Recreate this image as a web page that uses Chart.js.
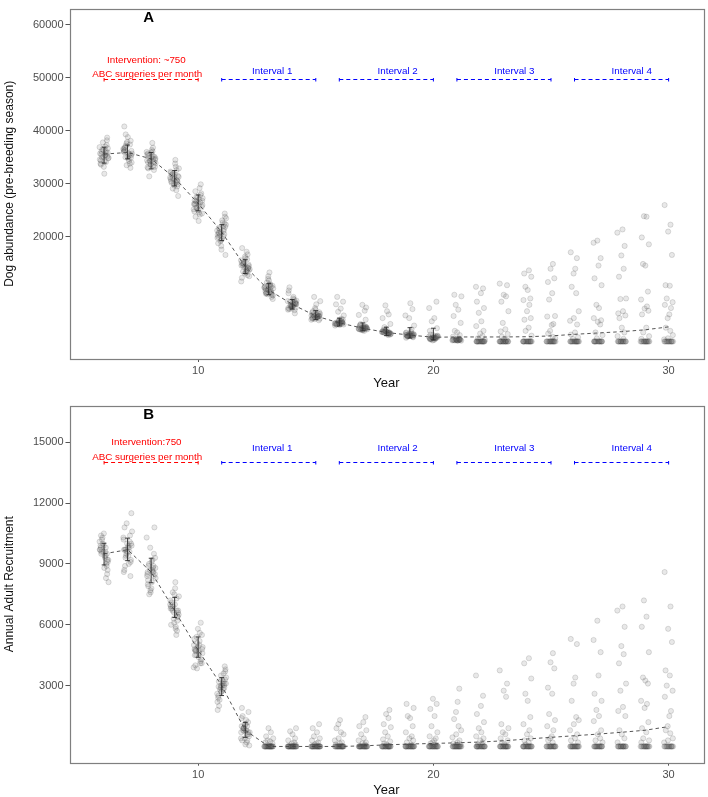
<!DOCTYPE html>
<html>
<head>
<meta charset="utf-8">
<script src="https://cdn.jsdelivr.net/npm/chart.js@4.4.1/dist/chart.umd.min.js"></script>
<style>
  html, body { margin: 0; padding: 0; background: #fff; }
  #wrap { position: relative; width: 708px; height: 797px; }
  canvas { position: absolute; left: 0; }
  #panel-a { top: 0; }
  #panel-b { top: 395px; }
</style>
</head>
<body>
<div id="wrap">
  <canvas id="panel-a" width="708" height="395"></canvas>
  <canvas id="panel-b" width="708" height="402"></canvas>
</div>
<script>
'use strict';

// Section 1: data
const years = [6, 7, 8, 9, 10, 11, 12, 13, 14, 15, 16, 17, 18, 19, 20, 21, 22, 23, 24, 25, 26, 27, 28, 29, 30];
const yearTicks = [10, 20, 30];

// Panel A: dog abundance
const abundanceTicks = [20000, 30000, 40000, 50000, 60000];
const abundanceMean = [35600, 35900, 34700, 31100, 26300, 20900, 14400, 10000, 7300, 5100, 3800, 2800, 2000, 1500, 1100,
    1150, 1150, 1150, 1200, 1350, 1650, 1900, 2150, 2500, 3050];
const abundanceErrLow = [33900, 34700, 32800, 29600, 24900, 19300, 13100, 9100, 6400, 4400, 3200, 2300, 1400, 950, 600];
const abundanceErrHigh = [36900, 37300, 35900, 32500, 27900, 22300, 15700, 11200, 8200, 6100, 4700, 3800, 3000, 2900, 2800];
const abundanceFloor = 300;
const abundanceFloorCount = [0, 0, 0, 0, 0, 0, 0, 0, 0, 0, 0, 0, 0, 0, 0, 0, 17, 17, 17, 16, 16, 15, 14, 14, 13];
const abundanceRuns = [
    [35600, 36200, 34800, 35100, 36900, 37300, 34200, 33800, 35900, 36500, 35300, 34600, 38700, 33200, 35800, 36100, 34900, 37800, 35400, 34400, 36700, 35000, 31900, 38200, 35700, 34100, 36300, 35200, 33600, 37000],
    [36000, 35400, 37200, 34700, 36600, 38100, 35100, 33800, 36900, 35700, 37600, 34300, 40800, 36200, 35000, 38800, 33000, 36400, 35600, 37900, 34900, 36700, 35300, 39300, 34000, 36100, 37400, 35800, 33500, 36300],
    [34700, 35300, 33900, 34200, 36100, 35700, 33200, 34900, 35900, 32600, 34400, 36800, 33700, 35100, 34000, 37700, 31400, 34600, 35500, 33400, 36400, 34300, 32900, 35200, 34800, 33600, 36000, 34100, 35000, 33100],
    [31100, 31800, 30400, 30900, 32600, 29700, 31500, 30200, 33200, 29100, 31300, 32100, 30600, 34500, 30000, 31700, 28800, 32900, 30800, 31200, 29500, 33800, 30500, 27700, 31900, 30300, 32300, 29900, 31400, 30700],
    [26300, 27100, 25500, 26800, 24800, 27900, 25900, 26600, 28600, 24200, 26000, 27400, 25200, 29900, 23000, 26900, 25700, 27600, 24600, 26200, 28200, 25000, 26500, 23800, 27300, 25400, 29200, 26100, 24400, 26700],
    [20900, 21700, 20100, 22300, 19400, 21200, 20500, 23100, 18800, 21900, 20300, 22700, 19800, 24400, 17600, 21400, 20700, 23500, 19200, 22000, 20000, 16600, 21500, 19600, 22500, 20400, 21100, 18300, 23800, 20800],
    [14400, 15100, 13700, 14900, 13300, 15600, 14100, 16300, 12800, 14700, 13900, 15300, 17200, 12300, 14500, 13500, 16000, 14200, 11600, 15800, 13100, 14800, 17900, 13800, 15000, 12600, 14600, 16700, 13400, 14300],
    [10000, 10600, 9500, 10300, 9200, 11100, 9800, 10800, 9400, 11800, 8700, 10400, 9900, 12600, 9100, 10200, 9600, 11400, 8300, 10700, 9700, 13300, 10100, 9300, 10900, 9000, 12100, 10500, 9400, 11000],
    [7300, 7800, 6900, 7500, 6600, 8200, 7100, 7700, 6400, 8700, 7000, 7400, 9400, 6200, 7600, 6800, 10500, 7200, 8000, 6500, 7900, 5600, 7300, 9900, 6700, 7100, 8400, 6300, 7500, 7000],
    [5100, 5400, 4800, 5200, 4600, 5700, 5000, 5300, 4500, 6000, 4900, 5500, 6600, 4400, 5100, 7300, 4700, 5800, 8700, 5000, 5200, 4300, 6300, 5600, 4800, 7900, 5000, 5300, 4600, 5100],
    [3800, 4000, 3600, 3900, 3500, 4200, 3700, 4100, 3400, 3800, 4400, 3600, 3900, 3300, 4000, 3700, 4600, 3500, 5200, 5900, 6500, 7300, 7800, 8700, 4300, 3800, 3600, 4100, 3900, 3700],
    [2800, 3000, 2600, 2900, 2500, 3200, 2700, 3100, 2400, 2800, 3400, 2600, 2900, 2300, 3000, 2700, 3600, 2500, 4400, 5300, 6100, 7200, 6700, 3300, 2800, 2600, 2900, 2700, 3100, 2800],
    [2000, 2200, 1800, 2100, 1700, 2400, 1900, 2300, 1600, 2000, 2600, 1800, 2100, 1500, 2200, 1900, 2000, 1700, 3000, 3600, 4700, 5400, 6000, 7100, 2500, 2000, 1800, 2300, 2100, 1900],
    [1500, 1700, 1300, 1600, 1200, 1900, 1400, 1800, 1100, 1500, 2100, 1300, 1600, 1000, 1700, 1400, 1500, 1200, 2600, 3300, 4700, 5200, 6400, 7500, 2000, 1500, 1300, 1800, 1600, 1400],
    [1000, 1200, 800, 1100, 700, 1400, 900, 1300, 600, 1000, 1600, 800, 1100, 500, 1200, 900, 1000, 2300, 2800, 4100, 4700, 6600, 7800, 1500, 1000, 800, 1300, 1100, 900, 700],
    [600, 500, 700, 550, 650, 450, 600, 500, 700, 550, 650, 600, 500, 450, 600, 700, 550, 600, 9100, 8800, 7200, 6300, 5100, 3800, 2300, 2000, 1500, 1200, 900, 800],
    [10600, 10300, 9400, 7800, 6600, 5700, 4100, 3200, 2300, 1800, 1300, 900, 600],
    [11200, 10900, 9100, 8800, 7800, 6000, 3800, 2600, 2200, 1700, 1200, 800, 600],
    [13700, 13100, 12500, 10600, 10000, 8400, 8100, 7200, 6000, 4700, 4400, 2900, 2300, 1400],
    [14900, 14000, 12200, 11500, 9400, 8200, 5100, 5000, 3600, 3400, 2300, 1800, 1200, 900],
    [17100, 16000, 14000, 13100, 10600, 9400, 6000, 4700, 4200, 3500, 2000, 1600, 1100, 800],
    [19300, 18900, 16000, 14600, 12200, 10900, 7200, 6600, 4700, 4300, 4000, 3500, 2000, 1500, 900],
    [21400, 20800, 18300, 16500, 14000, 12500, 8400, 8300, 6000, 5600, 5200, 4700, 2900, 2000, 1300, 800],
    [23900, 23800, 19900, 18600, 14900, 14600, 9700, 8200, 6900, 6500, 6100, 5400, 2900, 2000, 1300, 800],
    [26000, 22300, 21000, 16600, 10900, 10800, 8400, 7700, 7200, 6600, 5400, 4700, 2900, 2300, 1500, 900, 700]
];

// Panel B: annual adult recruitment
const recruitTicks = [3000, 6000, 9000, 12000, 15000];
const recruitMean = [9500, 9700, 8600, 6700, 4750, 3000, 800, 0, 0, 0, 0, 30, 80, 120, 150,
    180, 220, 280, 370, 450, 530, 610, 700, 800, 980];
const recruitErrLow = [8950, 9160, 8070, 6360, 4400, 2510, 450];
const recruitErrHigh = [10020, 10270, 9280, 7350, 5400, 3390, 1190];
const recruitFloor = 0;
const recruitFloorCount = [0, 0, 0, 0, 0, 0, 0, 22, 22, 21, 20, 20, 19, 19, 18, 18, 17, 17, 17, 16, 16, 15, 15, 14, 13];
const recruitRuns = [
    [9500, 9800, 9200, 9600, 10100, 8900, 9400, 9900, 8700, 10300, 9300, 9700, 8500, 10500, 9000, 9600, 8100, 10000, 9400, 9800, 9100, 10200, 8800, 9500, 9700, 8300, 9900, 9200, 10400, 9600],
    [9700, 10000, 9400, 9900, 10300, 9100, 9600, 10100, 8900, 10600, 9500, 9800, 8700, 11500, 9300, 9800, 8400, 10200, 9600, 10000, 9200, 10800, 9000, 9700, 9900, 8600, 10400, 9400, 11000, 9700],
    [8600, 8900, 8300, 8700, 9200, 8000, 8500, 9000, 7800, 9500, 8400, 8800, 7600, 10800, 8200, 8700, 7500, 9300, 8500, 8900, 8100, 9800, 7900, 8600, 8800, 7700, 10300, 8400, 9100, 8600],
    [6700, 7000, 6400, 6800, 7300, 6100, 6600, 7100, 5900, 7600, 6500, 6900, 5700, 8100, 6300, 6800, 5500, 7400, 6600, 7000, 6200, 7800, 6000, 6700, 6900, 5800, 7200, 6400, 7500, 6700],
    [4750, 5000, 4500, 4800, 5300, 4200, 4700, 5100, 4000, 5600, 4600, 4900, 3900, 6100, 4400, 4800, 4100, 5400, 4600, 5000, 4300, 5800, 4100, 4700, 4900, 3850, 5200, 4500, 5500, 4750],
    [3000, 3200, 2800, 3100, 3500, 2600, 2900, 3300, 2400, 3700, 2800, 3100, 2200, 3950, 2700, 3000, 2000, 3400, 2900, 3200, 2500, 3800, 2300, 3000, 3100, 1800, 3600, 2700, 3300, 2950],
    [800, 1000, 600, 900, 1300, 400, 700, 1100, 300, 1500, 700, 900, 200, 1900, 500, 800, 100, 1200, 700, 1000, 400, 1700, 300, 800, 900, 50, 1400, 600, 1100, 750],
    [900, 700, 500, 400, 300, 250, 200, 150],
    [900, 750, 600, 400, 300, 200, 150, 100],
    [1100, 900, 700, 500, 400, 300, 200, 150, 100],
    [1300, 1100, 900, 700, 600, 400, 300, 200, 150, 100],
    [1450, 1200, 1000, 800, 600, 400, 300, 200, 150, 100],
    [1800, 1600, 1400, 1100, 950, 700, 500, 350, 250, 150, 100],
    [2100, 1900, 1500, 1400, 1000, 700, 500, 400, 300, 200, 100],
    [2350, 2100, 1850, 1500, 1000, 700, 500, 400, 300, 200, 150, 100],
    [2850, 2200, 1700, 1350, 1000, 800, 600, 450, 300, 200, 150, 100],
    [3500, 2500, 2000, 1600, 1200, 900, 700, 500, 400, 300, 200, 100],
    [3750, 3100, 2750, 2450, 1100, 900, 700, 600, 400, 300, 200, 100],
    [4350, 4100, 3350, 2600, 2250, 1450, 1100, 800, 600, 400, 300, 200, 100],
    [4600, 4150, 3850, 2900, 2600, 1600, 1300, 1000, 800, 500, 400, 300, 200],
    [5300, 5050, 3400, 3100, 2250, 1450, 1300, 1100, 800, 600, 400, 300, 200],
    [6200, 5250, 4650, 3500, 2600, 2250, 1800, 1500, 1250, 800, 600, 400, 300, 200],
    [6900, 6700, 5900, 4950, 4550, 4100, 3100, 2750, 1950, 1750, 1500, 800, 600, 400, 200],
    [7200, 6400, 5900, 4650, 3400, 3250, 3100, 2250, 2100, 1900, 1200, 900, 700, 400, 300, 200],
    [8600, 6900, 5800, 5150, 3750, 3500, 3000, 2750, 2450, 1750, 1500, 1000, 800, 650, 400, 300, 200]
];

// annotation spans (years)
const interventionSpan = [6, 10];
const intervalSpans = [[11, 15], [16, 20], [21, 25], [26, 30]];
const intervalLabels = ["Interval 1", "Interval 2", "Interval 3", "Interval 4"];
const intervalLabelX = [13.15, 18.48, 23.44, 28.43];

// horizontal jitter used for the replicate points
const jitter = [-0.12, 0.07, 0.18, -0.03, -0.19, 0.11, 0.02, -0.15, 0.15, -0.07, 0.04, -0.18,
    0.13, -0.01, 0.09, -0.11, 0.19, -0.05, 0.06, -0.14, 0.16, -0.09, 0.01, 0.12, -0.17, 0.08,
    -0.02, 0.14, -0.13, 0.05, -0.08, 0.17, -0.16, 0.1, 0.03, -0.04];

const FONT = "'Liberation Sans', Arial, sans-serif";


// Section 2: helpers
function buildPoints(runs, floorValue, floorCount) {
    let pts = [];
    years.forEach((yr, k) => {
        let vals = runs[k].concat(new Array(floorCount[k]).fill(floorValue));
        vals.forEach((v, i) => {
            pts.push({x: yr + jitter[(i + k * 7) % jitter.length], y: v});
        });
    });
    return pts;
}

const panelPlugin = {
    id: 'panel',
    afterDatasetsDraw(chart, args, opts) {
        const {ctx, scales: {x, y}} = chart;
        ctx.save();

        // error bars
        ctx.strokeStyle = '#262626';
        ctx.lineWidth = 0.9;
        opts.errLow.forEach((lo, i) => {
            const px = x.getPixelForValue(years[i]);
            const capL = x.getPixelForValue(years[i] - 0.1);
            const capR = x.getPixelForValue(years[i] + 0.1);
            const pLo = y.getPixelForValue(lo);
            const pHi = y.getPixelForValue(opts.errHigh[i]);
            ctx.beginPath();
            ctx.moveTo(px, pLo); ctx.lineTo(px, pHi);
            ctx.moveTo(capL, pLo); ctx.lineTo(capR, pLo);
            ctx.moveTo(capL, pHi); ctx.lineTo(capR, pHi);
            ctx.stroke();
        });

        // dashed brackets
        const bracket = (span, color) => {
            const x0 = x.getPixelForValue(span[0]);
            const x1 = x.getPixelForValue(span[1]);
            const py = Math.round(y.getPixelForValue(opts.bracketY)) + 0.5;
            ctx.strokeStyle = color;
            ctx.lineWidth = 1;
            ctx.setLineDash([4, 3]);
            ctx.beginPath();
            ctx.moveTo(x0, py); ctx.lineTo(x1, py);
            ctx.stroke();
            ctx.setLineDash([]);
            ctx.beginPath();
            ctx.moveTo(x0, py - 1.5); ctx.lineTo(x0, py + 2);
            ctx.moveTo(x1, py - 1.5); ctx.lineTo(x1, py + 2);
            ctx.stroke();
        };
        bracket(interventionSpan, '#ff0000');
        intervalSpans.forEach(s => bracket(s, '#0000ff'));

        ctx.textAlign = 'center';
        ctx.textBaseline = 'middle';
        ctx.font = `9.8px ${FONT}`;
        ctx.fillStyle = '#ff0000';
        ctx.fillText(opts.redLine1, x.getPixelForValue(7.8), y.getPixelForValue(opts.redY1));
        ctx.fillText("ABC surgeries per month", x.getPixelForValue(7.83), y.getPixelForValue(opts.redY2));
        ctx.fillStyle = '#0000ff';
        intervalLabels.forEach((lab, i) => {
            ctx.fillText(lab, x.getPixelForValue(intervalLabelX[i]), y.getPixelForValue(opts.blueY));
        });

        // panel letter
        ctx.fillStyle = '#000';
        ctx.font = `bold 15px ${FONT}`;
        ctx.fillText(opts.letter, x.getPixelForValue(7.9), y.getPixelForValue(opts.letterY));
        ctx.restore();
    },
    afterDraw(chart, args, opts) {
        const {ctx, chartArea} = chart;
        ctx.save();
        ctx.strokeStyle = '#7f7f7f';
        ctx.lineWidth = 1.2;
        ctx.strokeRect(Math.round(chartArea.left) + 0.5, Math.round(chartArea.top) + 0.5,
            Math.round(chartArea.right - chartArea.left), Math.round(chartArea.bottom - chartArea.top));

        ctx.fillStyle = '#111';
        ctx.textAlign = 'center';
        ctx.textBaseline = 'middle';
        ctx.font = `13px ${FONT}`;
        ctx.fillText("Year", (chartArea.left + chartArea.right) / 2, opts.yearTitleY);

        ctx.translate(9.5, (chartArea.top + chartArea.bottom) / 2);
        ctx.rotate(-Math.PI / 2);
        ctx.font = `12px ${FONT}`;
        ctx.fillText(opts.yTitle, 0, 0);
        ctx.restore();
    }
};


// Section 3: chart builder
function drawPanel(canvasId, panel) {
    const canvas = document.querySelector(canvasId);

    const config = {
        type: 'scatter',
        data: {
            datasets: [
                {
                    type: 'line',
                    label: 'mean',
                    data: years.map((yr, i) => ({x: yr, y: panel.mean[i]})),
                    borderColor: '#444',
                    borderWidth: 0.9,
                    borderDash: [3.5, 3],
                    pointRadius: 0,
                    fill: false,
                    tension: 0,
                    order: 0,
                },
                {
                    label: 'runs',
                    data: panel.points,
                    pointRadius: 2.6,
                    pointBackgroundColor: 'rgba(80,80,80,0.13)',
                    pointBorderColor: 'rgba(60,60,60,0.2)',
                    pointBorderWidth: 0.8,
                    order: 1,
                },
            ],
        },
        options: {
            responsive: false,
            animation: false,
            events: [],
            layout: {
                padding: {top: panel.padTop, right: 2.5, left: 0, bottom: 0},
            },
            scales: {
                x: {
                    type: 'linear',
                    min: 4.53,
                    max: 31.47,
                    afterBuildTicks: scale => {
                        scale.ticks = yearTicks.map(v => ({value: v}));
                    },
                    afterFit: scale => {
                        scale.height = panel.xHeight;
                    },
                    grid: {
                        drawOnChartArea: false,
                        drawTicks: true,
                        tickLength: 3,
                        color: '#555',
                    },
                    border: {display: false},
                    ticks: {
                        color: '#4d4d4d',
                        font: {family: FONT, size: 11},
                        padding: panel.xTickPad,
                        maxRotation: 0,
                        callback: value => `${value}`,
                    },
                },
                y: {
                    min: panel.yMin,
                    max: panel.yMax,
                    afterBuildTicks: scale => {
                        scale.ticks = panel.ticks.map(v => ({value: v}));
                    },
                    afterFit: scale => {
                        scale.width = 69.5;
                    },
                    grid: {
                        drawOnChartArea: false,
                        drawTicks: true,
                        tickLength: 4,
                        color: '#555',
                    },
                    border: {display: false},
                    ticks: {
                        color: '#4d4d4d',
                        font: {family: FONT, size: 11},
                        padding: 2,
                        callback: value => `${value}`,
                    },
                },
            },
            plugins: {
                legend: {display: false},
                tooltip: {enabled: false},
                panel: panel.overlay,
            },
        },
        plugins: [panelPlugin],
    };

    return new Chart(canvas, config);
}


drawPanel("#panel-a", {
    mean: abundanceMean,
    points: buildPoints(abundanceRuns, abundanceFloor, abundanceFloorCount),
    ticks: abundanceTicks,
    yMin: -3000,
    yMax: 63000,
    padTop: 1.7,
    xHeight: 36,
    xTickPad: 2,
    overlay: {
        errLow: abundanceErrLow,
        errHigh: abundanceErrHigh,
        bracketY: 49700,
        redLine1: "Intervention: ~750",
        redY1: 53300,
        redY2: 50600,
        blueY: 51200,
        letter: "A",
        letterY: 61350,
        yearTitleY: 383,
        yTitle: "Dog abundance (pre-breeding season)",
    },
});

drawPanel("#panel-b", {
    mean: recruitMean,
    points: buildPoints(recruitRuns, recruitFloor, recruitFloorCount),
    ticks: recruitTicks,
    yMin: -800,
    yMax: 16800,
    padTop: 10.7,
    xHeight: 34.3,
    xTickPad: 3,
    overlay: {
        errLow: recruitErrLow,
        errHigh: recruitErrHigh,
        bracketY: 14000,
        redLine1: "Intervention:750",
        redY1: 15000,
        redY2: 14280,
        blueY: 14690,
        letter: "B",
        letterY: 16370,
        yearTitleY: 395.5,
        yTitle: "Annual Adult Recruitment",
    },
});
</script>
</body>
</html>
